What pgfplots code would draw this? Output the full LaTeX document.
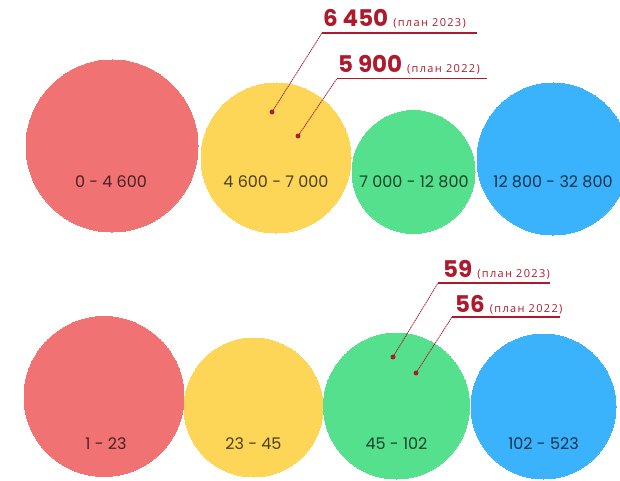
\documentclass[border=0pt]{standalone}
\usepackage{fontspec}
\usepackage{pgfplots}
\pgfplotsset{compat=1.18}
\setmainfont{Poppins}
\newfontfamily\planfont[LetterSpace=12]{Open Sans}

\definecolor{cred}{HTML}{F07272}
\definecolor{cyellow}{HTML}{FDD658}
\definecolor{cgreen}{HTML}{54E08D}
\definecolor{cblue}{HTML}{3AB2FC}
\definecolor{cdark}{HTML}{AE1A2C}

% one circle: x y radius (radius in pt, 1 axis unit = 1pt)
\newcommand{\bubble}[4]{%
  \addplot[only marks, mark=*, mark size=#4pt, color=#1,
    mark options={draw=#1, fill=#1, line width=0pt}] coordinates {(#2,#3)};}
\newcommand{\rangelabel}[3]{%
  \node[text=black, opacity=0.7, font=\fontsize{16}{16}\selectfont] at (axis cs:#1,#2) {#3};}
\newcommand{\callout}[9]{%
  % #1,#2 dot; #3 underline y; #4,#5 underline x; #6 text x; #7 baseline; #8 value; #9 year
  \addplot[cdark, line width=0.8pt, dash pattern=on 1.4pt off 0.7pt] coordinates {(#1,#2) (#4,#3)};
  \addplot[cdark, line width=1.1pt] coordinates {(#4,#3) (#5,#3)};
  \addplot[only marks, mark=*, mark size=2.2pt, color=cdark] coordinates {(#1,#2)};
  \node[anchor=base west, inner sep=0pt, text=cdark] at (axis cs:#6,#7)
    {{\fontsize{23}{23}\selectfont\bfseries #8}\hspace{5pt}{\planfont\fontsize{11}{11}\selectfont(план #9)}};}

\begin{document}
\begin{tikzpicture}
\begin{axis}[
  scale only axis,
  width=620pt, height=481pt,
  xmin=0, xmax=620, ymin=0, ymax=481,
  y dir=reverse,
  hide axis,
  clip marker paths=true,
]
  % top row
  \bubble{cred}{112}{146}{86}
  \bubble{cyellow}{276}{158}{75}
  \bubble{cgreen}{413.5}{172}{61.5}
  \bubble{cblue}{553}{159}{76}
  % bottom row
  \bubble{cred}{104}{396.5}{80}
  \bubble{cyellow}{253.5}{407.5}{69.5}
  \bubble{cgreen}{396.5}{406}{73}
  \bubble{cblue}{543.5}{406.5}{72.5}

  \rangelabel{111}{182}{0 - 4 600}
  \rangelabel{276}{182}{4 600 - 7 000}
  \rangelabel{414}{182}{7 000 - 12 800}
  \rangelabel{553}{182}{12 800 - 32 800}
  \rangelabel{106}{444}{1 - 23}
  \rangelabel{253.5}{444}{23 - 45}
  \rangelabel{396.5}{444}{45 - 102}
  \rangelabel{543.5}{444}{102 - 523}

  \callout{272}{112}{33}{322}{477}{323}{27}{6 450}{2023}
  \callout{298}{136}{78.5}{337}{487}{338}{73}{5 900}{2022}
  \callout{393}{357}{283}{438}{550}{443}{277}{59}{2023}
  \callout{416}{373}{317}{452}{560}{455}{312}{56}{2022}

  \coordinate (sw) at (axis cs:0,481);
  \coordinate (ne) at (axis cs:620,0);
\end{axis}
\pgfresetboundingbox
\path (sw) rectangle (ne);
\end{tikzpicture}
\end{document}
